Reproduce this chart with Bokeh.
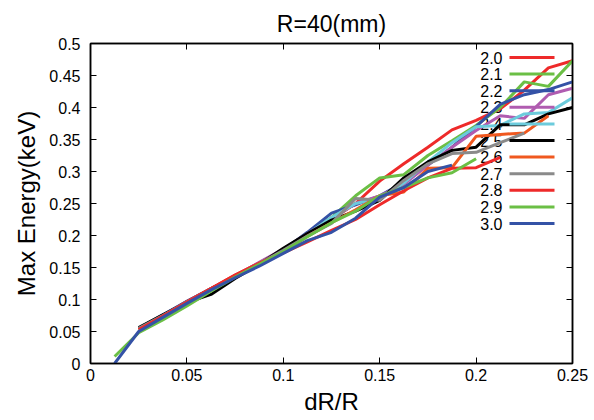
from bokeh.plotting import figure
from bokeh.models import LinearAxis, FixedTicker, Range1d, ColumnDataSource
from bokeh.core.properties import value
from bokeh.embed import file_html
from bokeh.resources import INLINE

# ---- data ----
dr_over_r = [0.0125, 0.025, 0.0375, 0.05, 0.0625, 0.075, 0.0875, 0.1, 0.1125, 0.125,
             0.1375, 0.15, 0.1625, 0.175, 0.1875, 0.2, 0.2125, 0.225, 0.2375, 0.25]

labels = ["2.0", "2.1", "2.2", "2.3", "2.4", "2.5", "2.6", "2.7", "2.8", "2.9", "3.0"]
# first index into dr_over_r for each series
start_idx = [1, 1, 1, 1, 1, 1, 1, 1, 1, 0, 0]

e_20 = [.054, .075, .097, .117, .138, .157, .178, .200, .225, .250, .285, .312, .338, .365, .380, .398, .427, .462, .473]
e_21 = [.053, .073, .095, .116, .137, .157, .178, .203, .228, .262, .290, .295, .325, .348, .372, .400, .440, .433, .473]
e_22 = [.055, .076, .097, .117, .136, .156, .177, .205, .235, .248, .262, .283, .310, .338, .370, .405, .420, .428, .440]
e_23 = [.054, .074, .096, .116, .137, .158, .179, .203, .226, .250, .262, .280, .310, .338, .364, .387, .383, .420, .430]
e_24 = [.053, .074, .095, .115, .136, .156, .177, .202, .228, .250, .258, .282, .315, .345, .370, .372, .390, .392, .415]
e_25 = [.056, .076, .095, .108, .133, .155, .180, .203, .224, .238, .255, .290, .315, .333, .338, .373, .373, .390, .400]
e_26 = [.053, .074, .096, .117, .136, .155, .175, .199, .220, .240, .262, .268, .305, .306, .355, .358, .360, .387]
e_27 = [.055, .075, .096, .116, .136, .156, .177, .199, .219, .258, .255, .286, .312, .328, .330, .345, .360]
e_28 = [.053, .074, .096, .117, .138, .157, .173, .190, .208, .225, .248, .270, .290, .305, .306, .322]
e_29 = [.011, .048, .068, .090, .113, .135, .155, .175, .198, .220, .238, .262, .275, .290, .298, .320]
e_30 = [.000, .050, .072, .094, .115, .134, .152, .172, .192, .205, .227, .260, .275, .300, .310]

series = [e_20, e_21, e_22, e_23, e_24, e_25, e_26, e_27, e_28, e_29, e_30]

x_ticks = [0, 0.05, 0.1, 0.15, 0.2, 0.25]
x_tick_labels = ["0", "0.05", "0.1", "0.15", "0.2", "0.25"]
y_ticks = [0, 0.05, 0.1, 0.15, 0.2, 0.25, 0.3, 0.35, 0.4, 0.45, 0.5]
y_tick_labels = ["0", "0.05", "0.1", "0.15", "0.2", "0.25", "0.3", "0.35", "0.4", "0.45", "0.5"]

colors = ["#ee2a2a", "#6bbf45", "#3452a6", "#b05cb0", "#6ccbdc", "#000000",
          "#f0581f", "#8a8a8a", "#ee2a2a", "#6bbf45", "#3452a6"]

FONT = "Liberation Sans"

# ---- layout constants (pixels of the 482x320 frame) ----
X0, X1, Y0, Y1 = 0.0, 0.25, 0.0, 0.5
FRAME_W, FRAME_H = 482, 320
LEG_TEXT_PX = 412      # right edge of legend text, from frame left
LEG_LINE_PX = (419, 464)
LEG_TOP_PX = 14        # first row centre, from frame top
LEG_ROW_PX = 16.6

def px_to_x(px):
    return X0 + (X1 - X0) * px / FRAME_W

def px_to_y(py_from_top):
    return Y1 - (Y1 - Y0) * py_from_top / FRAME_H

p = figure(width=594, height=420, output_backend="svg", toolbar_location=None,
           x_range=Range1d(X0, X1), y_range=Range1d(Y0, Y1),
           min_border_left=90, min_border_right=22, min_border_top=43, min_border_bottom=57,
           title="R=40(mm)")
p.title.align = "center"
p.title.text_font = FONT
p.title.text_font_size = "23px"
p.title.text_font_style = "normal"
p.title.text_color = "#000000"
p.title.standoff = 13

p.xgrid.visible = False
p.ygrid.visible = False
p.outline_line_color = "#000000"
p.outline_line_width = 1.5
p.background_fill_color = "white"
p.border_fill_color = "white"

def style_axis(ax, ticks, labs, show_labels=True):
    ax.ticker = FixedTicker(ticks=ticks)
    ax.major_tick_in = 6
    ax.major_tick_out = 0
    ax.minor_tick_in = 0
    ax.minor_tick_out = 0
    ax.axis_line_color = "#000000"
    ax.axis_line_width = 1.5
    ax.major_tick_line_color = "#000000"
    ax.major_tick_line_width = 1
    if show_labels:
        ax.major_label_overrides = {t: l for t, l in zip(ticks, labs)}
        ax.major_label_text_font = FONT
        ax.major_label_text_color = "#000000"
        ax.major_label_text_font_size = "16px"
    else:
        ax.major_label_text_color = None
        ax.major_label_text_font_size = "1px"
        ax.major_label_standoff = 0

style_axis(p.xaxis[0], x_ticks, x_tick_labels)
style_axis(p.yaxis[0], y_ticks, y_tick_labels)
p.xaxis[0].major_label_standoff = 5
p.yaxis[0].major_label_standoff = 10
p.xaxis[0].axis_label = "dR/R"
p.yaxis[0].axis_label = "Max Energy(keV)"
for ax in (p.xaxis[0], p.yaxis[0]):
    ax.axis_label_text_font = FONT
    ax.axis_label_text_font_size = "24px"
    ax.axis_label_text_font_style = "normal"
    ax.axis_label_text_color = "#000000"
p.xaxis[0].axis_label_standoff = 4
p.yaxis[0].axis_label_standoff = 6

top_ax = LinearAxis()
style_axis(top_ax, x_ticks, x_tick_labels, show_labels=False)
p.add_layout(top_ax, "above")
right_ax = LinearAxis()
style_axis(right_ax, y_ticks, y_tick_labels, show_labels=False)
p.add_layout(right_ax, "right")

# ---- legend (gnuplot style: text, then line sample) ----
n = len(labels)
leg_y = [px_to_y(LEG_TOP_PX + i * LEG_ROW_PX) for i in range(n)]
leg_src = ColumnDataSource(dict(
    label=labels, color=colors, y=leg_y,
    xt=[px_to_x(LEG_TEXT_PX)] * n,
    x0=[px_to_x(LEG_LINE_PX[0])] * n,
    x1=[px_to_x(LEG_LINE_PX[1])] * n))
p.text(x="xt", y="y", text="label", source=leg_src,
       text_align="right", text_baseline="middle",
       text_font=value(FONT), text_font_size="16px", text_color="#000000")

for s0, vals, c in zip(start_idx, series, colors):
    xs = dr_over_r[s0:s0 + len(vals)]
    p.line(xs, vals, line_color=c, line_width=3)

p.segment(x0="x0", y0="y", x1="x1", y1="y", source=leg_src,
          line_color="color", line_width=3)

open("out.html", "w").write(file_html(p, INLINE))
